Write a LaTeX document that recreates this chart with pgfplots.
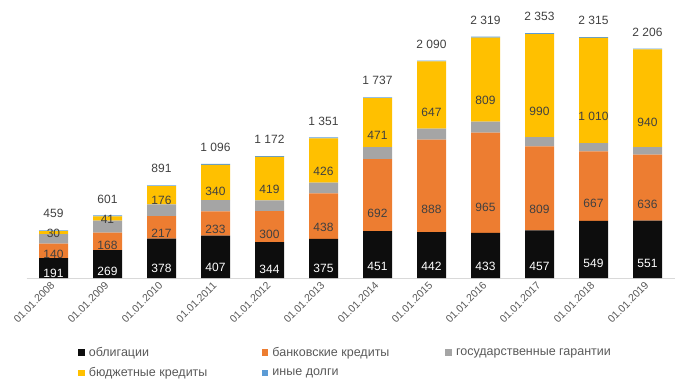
\documentclass[border=0pt]{standalone}
\usepackage{fontspec}
\setmainfont{Liberation Sans}
\usepackage{pgfplots}
\pgfplotsset{compat=1.18}
\usepackage{pgfplotstable}
\definecolor{cOb}{HTML}{0D0D0D}
\definecolor{cBank}{HTML}{ED7D31}
\definecolor{cGar}{HTML}{A5A5A5}
\definecolor{cBud}{HTML}{FFC000}
\definecolor{cOth}{HTML}{5B9BD5}
\definecolor{txt}{HTML}{404040}
\definecolor{tickc}{HTML}{595959}
\pgfplotstableread{
x ob bank gar bud oth tot
0 191 140 90 30 8 459
1 269 168 115 41 8 601
2 378 217 112 176 8 891
3 407 233 108 340 8 1096
4 344 300 101 419 8 1172
5 375 438 104 426 8 1351
6 451 692 115 471 8 1737
7 442 888 105 647 8 2090
8 433 965 104 809 8 2319
9 457 809 89 990 8 2353
10 549 667 81 1010 8 2315
11 551 636 71 940 8 2206
}\data
\tikzset{lblfont/.style={font=\fontsize{12bp}{14bp}\selectfont}}
\pgfplotsset{
  seglbl/.style={nodes near coords={\pgfmathprintnumber[fixed,precision=0,1000 sep={\ },assume math mode=true]{\pgfplotspointmeta}},
    every node near coord/.append style={anchor=center, shift={(axis direction cs:0,-\rawy/4)}, lblfont, text=#1, inner sep=0pt}},
}
\begin{document}
\begin{tikzpicture}
\begin{axis}[
  at={(0,0)}, anchor=south west,
  scale only axis, width=648bp, height=258bp,
  ybar stacked, bar width=29bp,
  xmin=-0.5, xmax=11.5, ymin=0, ymax=2480,
  axis x line*=bottom, axis y line=none,
  x axis line style={-, draw=black!15, line width=0.8bp},
  xtick=data,
  xticklabels={01.01.2008,01.01.2009,01.01.2010,01.01.2011,01.01.2012,01.01.2013,01.01.2014,01.01.2015,01.01.2016,01.01.2017,01.01.2018,01.01.2019},
  major tick length=0pt,
  xticklabel style={yshift=-5bp, rotate=45, anchor=east, font=\fontsize{10.5bp}{12bp}\selectfont, text=tickc, inner sep=1bp},
  legend columns=3,
  legend cell align=left,
  legend style={draw=none, fill=none, at={(axis description cs:0.075,-0.253)}, anchor=north west,
    font=\fontsize{12.5bp}{14bp}\selectfont, text=tickc, row sep=5.5bp,
    /tikz/every even column/.append style={column sep=0bp},
    /tikz/every odd column/.append style={column sep=2bp}},
  legend image code/.code={\fill[#1, draw=none] (0bp,-3.3bp) rectangle (6.6bp,3.3bp);},
  clip=false,
]
\addplot[fill=cOb, draw=none, point meta=\thisrow{ob}, visualization depends on={\thisrow{ob}\as\rawy}, seglbl=white] table[x=x,y=ob]{\data};
\addlegendentry{\makebox[171bp][l]{облигации}}
\addplot[fill=cBank, draw=none, point meta=\thisrow{bank}, visualization depends on={\thisrow{bank}\as\rawy}, seglbl=txt] table[x=x,y=bank]{\data};
\addlegendentry{\makebox[171bp][l]{банковские кредиты}}
\addplot[fill=cGar, draw=none] table[x=x,y=gar]{\data};
\addlegendentry{государственные гарантии}
\addplot[fill=cBud, draw=none, point meta=\thisrow{bud}, visualization depends on={\thisrow{bud}\as\rawy}, seglbl=txt] table[x=x,y=bud]{\data};
\addlegendentry{\makebox[171bp][l]{бюджетные кредиты}}
\addplot[fill=cOth, draw=none, point meta=\thisrow{tot},
  nodes near coords={\pgfmathprintnumber[fixed,precision=0,1000 sep={\ },assume math mode=true]{\pgfplotspointmeta}},
  every node near coord/.append style={anchor=south, yshift=12.5bp, inner sep=0pt, lblfont, text=txt}] table[x=x,y=oth]{\data};
\addlegendentry{\makebox[171bp][l]{иные долги}}
\end{axis}
\pgfresetboundingbox
\useasboundingbox (-26.5bp,-110bp) rectangle (658.5bp,278bp);
\end{tikzpicture}
\end{document}
